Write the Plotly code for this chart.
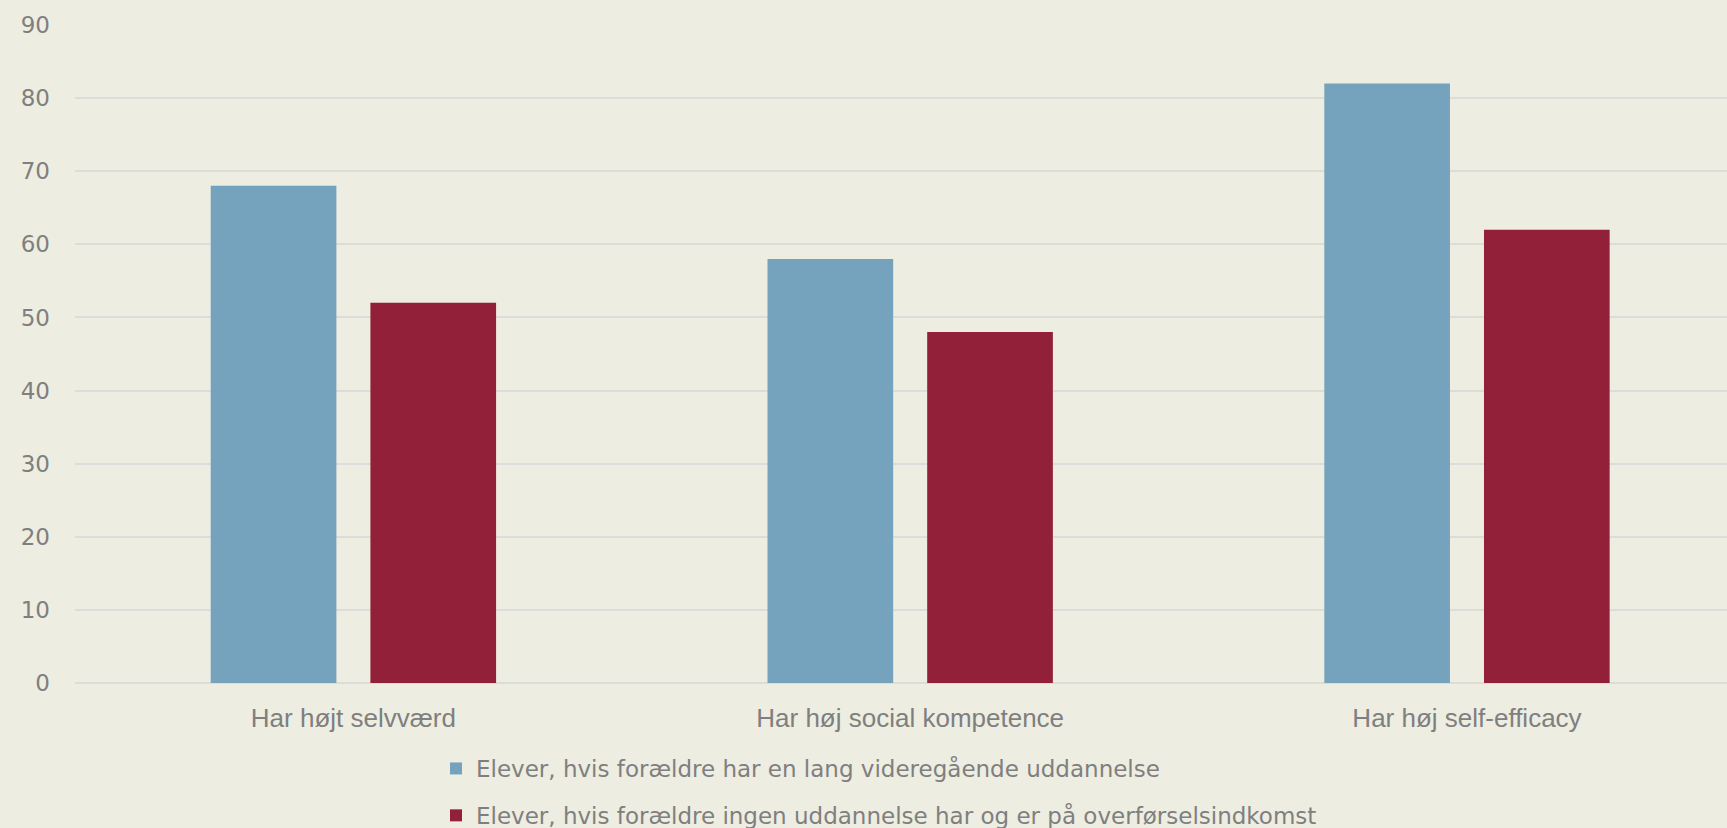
import plotly.graph_objects as go

categories = ["Har højt selvværd", "Har høj social kompetence", "Har høj self-efficacy"]
series_names = [
    "Elever, hvis forældre har en lang videregående uddannelse",
    "Elever, hvis forældre ingen uddannelse har og er på overførselsindkomst",
]
values_long = [68, 58, 82]
values_none = [52, 48, 62]
colors = ["#75A3BD", "#922038"]
y_ticks = [0, 10, 20, 30, 40, 50, 60, 70, 80, 90]

fig = go.Figure()
for i, (name, vals) in enumerate(zip(series_names, [values_long, values_none])):
    fig.add_trace(go.Bar(
        x=categories, y=vals, name=name, marker_color=colors[i],
        marker_line_width=0, legendgroup=f"g{i}",
    ))

bg = "#EDEDE1"
W, H = 1727, 828
L, R, T, B = 75, 0, 25, 145
pw, ph = W - L - R, H - T - B
fig.update_layout(
    width=W, height=H,
    paper_bgcolor=bg, plot_bgcolor=bg,
    margin=dict(l=L, r=R, t=T, b=B, autoexpand=False),
    barmode="group", bargap=0.4264, bargroupgap=0.213,
    showlegend=True,
    legend=dict(
        orientation="v", x=(436 - L) / pw, xanchor="left",
        y=-(747 - (H - B)) / ph, yanchor="top",
        font=dict(family="DejaVu Sans, sans-serif", size=23, color="#7F7F7F"),
        tracegroupgap=14, itemwidth=30, bgcolor="rgba(0,0,0,0)",
    ),
    xaxis=dict(
        range=[-0.5, 2.467], showgrid=False, zeroline=False, showline=False,
        tickfont=dict(family="Liberation Sans, Arial, sans-serif", size=26, color="#7F7F7F"),
        ticklabelstandoff=17, tickangle=0,
    ),
    yaxis=dict(
        range=[0, 90], tickvals=y_ticks, showgrid=True, gridcolor="#DCDCD8", gridwidth=2,
        zeroline=True, zerolinecolor="#DCDCD8", zerolinewidth=2, showline=False,
        tickfont=dict(family="DejaVu Sans, sans-serif", size=23, color="#7F7F7F"),
        ticklabelstandoff=24,
    ),
)
fig.write_html(
    "out.html",
    config={"displayModeBar": False},
    post_script="document.body.style.margin='0';document.body.style.overflow='hidden';",
)
